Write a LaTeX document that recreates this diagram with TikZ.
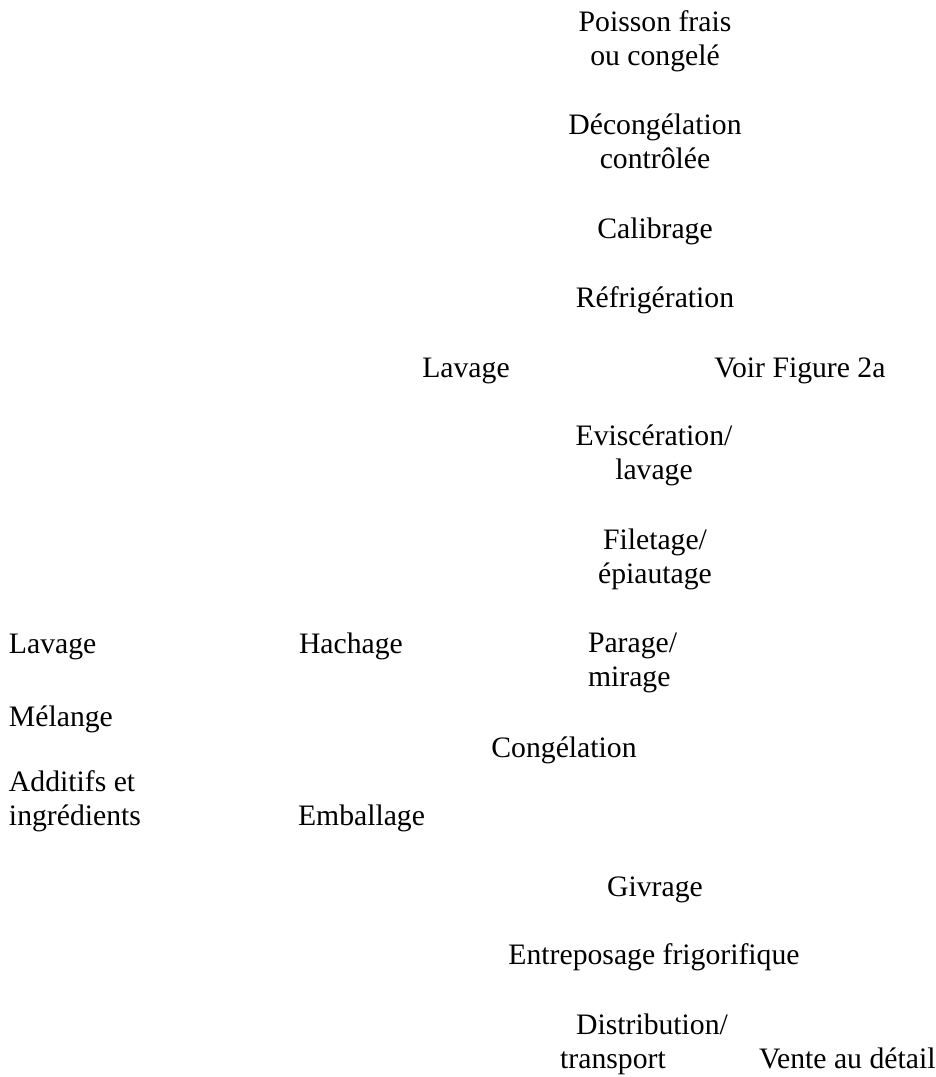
\documentclass[tikz,border=0pt]{standalone}
\usepackage{fontspec}
\setmainfont{Liberation Serif}
\begin{document}
\begin{tikzpicture}[x=1pt,y=-1pt,
  lbl/.style={inner sep=0pt, outer sep=0pt, align=center, anchor=base,
    font=\fontsize{29.7}{34}\selectfont},
  lblL/.style={lbl, align=left, anchor=base west}]
\useasboundingbox (0,0) rectangle (936,1077);
% main processing column (base = baseline of the last line)
\node[lbl] (poisson) at (655,65) {Poisson frais\\ou congelé};
\node[lbl] (decong) at (655,168) {Décongélation\\contrôlée};
\node[lbl] (calib) at (655,238) {Calibrage};
\node[lbl] (refrig) at (655,307) {Réfrigération};
\node[lbl] (lavage1) at (466,377) {Lavage};
\node[lbl] (voir) at (800,377) {Voir Figure 2a};
\node[lbl] (evisc) at (654,479) {Eviscération/\\lavage};
\node[lbl] (filet) at (655,583) {Filetage/\\épiautage};
\node[lblL] (parage) at (588,686) {Parage/\\mirage};
% side branch
\node[lblL] (lavage2) at (9,653) {Lavage};
\node[lblL] (hachage) at (299,653) {Hachage};
\node[lblL] (melange) at (9,726) {Mélange};
\node[lbl] (congel) at (564,757) {Congélation};
\node[lblL] (additifs) at (9,825) {Additifs et\\ingrédients};
\node[lblL] (emball) at (298,825) {Emballage};
% storage and distribution
\node[lbl] (givrage) at (655,896) {Givrage};
\node[lbl] (entrepos) at (654,964) {Entreposage frigorifique};
\node[lbl] (distrib) at (652,1034) {Distribution/};
\node[lbl] (transp) at (613,1068) {transport};
\node[lblL] (vente) at (759,1068) {Vente au détail};
\end{tikzpicture}
\end{document}
